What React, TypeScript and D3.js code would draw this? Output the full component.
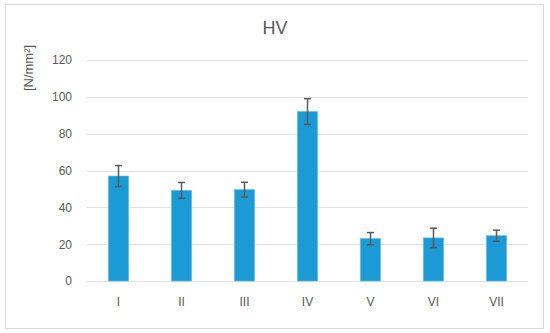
import { useEffect, useRef } from "react";
import * as d3 from "d3";

const categories = ["I", "II", "III", "IV", "V", "VI", "VII"];
const values = [57, 49.2, 49.6, 92, 23, 23.4, 24.6];
const errors = [5.7, 4.3, 4, 7, 3.3, 5.3, 3];
const yTicks = [0, 20, 40, 60, 80, 100, 120];

const width = 550;
const height = 333;
const margin = { top: 60, right: 22, bottom: 52, left: 87 };

export default function App() {
  const svgRef = useRef<SVGSVGElement | null>(null);

  useEffect(() => {
    const svg = d3.select(svgRef.current);
    svg.selectAll("*").remove();

    const x = d3
      .scaleBand()
      .domain(categories)
      .range([margin.left, width - margin.right])
      .paddingInner(0.68)
      .paddingOuter(0.34);

    const y = d3
      .scaleLinear()
      .domain([0, 120])
      .range([height - margin.bottom, margin.top]);

    // chart frame
    svg
      .append("rect")
      .attr("x", 5.5)
      .attr("y", 4.5)
      .attr("width", 538)
      .attr("height", 324)
      .attr("fill", "#fff")
      .attr("stroke", "#d9d9d9");

    // gridlines
    svg
      .append("g")
      .selectAll("line")
      .data(yTicks)
      .join("line")
      .attr("x1", margin.left)
      .attr("x2", width - margin.right)
      .attr("y1", (d) => Math.round(y(d)) + 0.5)
      .attr("y2", (d) => Math.round(y(d)) + 0.5)
      .attr("stroke", "#e3e3e3")
      .attr("stroke-width", 1);

    const yAxis = d3
      .axisLeft(y)
      .tickValues(yTicks)
      .tickSize(0)
      .tickPadding(15);

    svg
      .append("g")
      .attr("transform", "translate(" + margin.left + ",0)")
      .call(yAxis)
      .call((g) => g.select(".domain").remove())
      .selectAll("text")
      .style("font-family", "'Liberation Sans', Arial, sans-serif")
      .style("font-size", "12px")
      .style("fill", "#595959");

    const xAxis = d3.axisBottom(x).tickSize(0).tickPadding(16);

    svg
      .append("g")
      .attr("transform", "translate(0," + y(0) + ")")
      .call(xAxis)
      .call((g) => g.select(".domain").remove())
      .selectAll("text")
      .style("font-family", "'Liberation Sans', Arial, sans-serif")
      .style("font-size", "12px")
      .style("fill", "#595959");

    // bars
    svg
      .append("g")
      .selectAll("rect")
      .data(values)
      .join("rect")
      .attr("x", (d, i) => x(categories[i])!)
      .attr("y", (d) => y(d))
      .attr("width", x.bandwidth())
      .attr("height", (d) => y(0) - y(d))
      .attr("fill", "#1b9ad6")
      .attr("stroke", "#5fbbe6")
      .attr("stroke-width", 0.6);

    // error bars
    const err = svg
      .append("g")
      .attr("stroke", "#595959")
      .attr("stroke-width", 1.5)
      .selectAll("g")
      .data(values)
      .join("g");

    const cx = (i: number) => x(categories[i])! + x.bandwidth() / 2;

    err
      .append("line")
      .attr("x1", (d, i) => cx(i))
      .attr("x2", (d, i) => cx(i))
      .attr("y1", (d, i) => y(d + errors[i]))
      .attr("y2", (d, i) => y(d - errors[i]));

    err
      .append("line")
      .attr("x1", (d, i) => cx(i) - 3.5)
      .attr("x2", (d, i) => cx(i) + 3.5)
      .attr("y1", (d, i) => y(d + errors[i]))
      .attr("y2", (d, i) => y(d + errors[i]));

    err
      .append("line")
      .attr("x1", (d, i) => cx(i) - 3.5)
      .attr("x2", (d, i) => cx(i) + 3.5)
      .attr("y1", (d, i) => y(d - errors[i]))
      .attr("y2", (d, i) => y(d - errors[i]));

    // title
    svg
      .append("text")
      .attr("x", 275)
      .attr("y", 34)
      .attr("text-anchor", "middle")
      .style("font-family", "'Liberation Sans', Arial, sans-serif")
      .style("font-size", "18px")
      .style("fill", "#595959")
      .text("HV");

    // y axis label
    svg
      .append("text")
      .attr("transform", "translate(33,68) rotate(-90)")
      .attr("text-anchor", "middle")
      .style("font-family", "'Liberation Sans', Arial, sans-serif")
      .style("font-size", "13px")
      .style("fill", "#595959")
      .text("[N/mm²]");
  }, []);

  return (
    <div style={{ position: "absolute", left: 0, top: 0 }}>
      <svg ref={svgRef} width={width} height={height}></svg>
    </div>
  );
}
